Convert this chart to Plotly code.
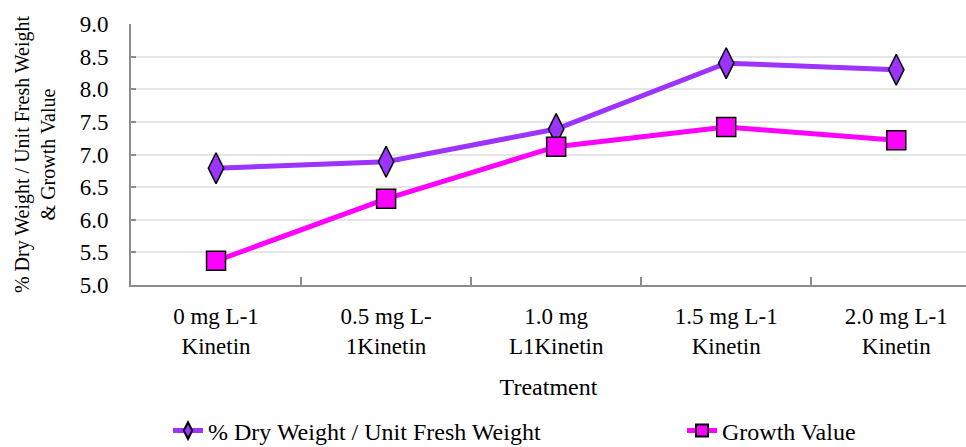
import plotly.graph_objects as go

categories = ["0 mg L-1<br>Kinetin", "0.5 mg L-<br>1Kinetin", "1.0 mg<br>L1Kinetin",
              "1.5 mg L-1<br>Kinetin", "2.0 mg L-1<br>Kinetin"]
dry_weight = [6.79, 6.89, 7.39, 8.40, 8.30]
growth_value = [5.37, 6.32, 7.12, 7.42, 7.22]
y_ticks = [5.0, 5.5, 6.0, 6.5, 7.0, 7.5, 8.0, 8.5, 9.0]

FONT = "Times New Roman"

fig = go.Figure()
fig.add_trace(go.Scatter(
    x=categories, y=dry_weight, mode="lines+markers",
    name="% Dry Weight / Unit Fresh Weight",
    line=dict(color="#9D33FF", width=5),
    marker=dict(symbol="diamond-tall", size=22, color="#9D33FF",
                line=dict(color="black", width=1.5)),
    legend="legend",
))
fig.add_trace(go.Scatter(
    x=categories, y=growth_value, mode="lines+markers",
    name="Growth Value",
    line=dict(color="#FF00FF", width=5),
    marker=dict(symbol="square", size=19, color="#FF00FF",
                line=dict(color="black", width=1.5)),
    legend="legend2",
))

leg_common = dict(orientation="h", yref="container", y=16 / 447, yanchor="middle",
                  xref="container", xanchor="left",
                  font=dict(family=FONT, size=24, color="black"),
                  itemsizing="constant", bgcolor="rgba(0,0,0,0)")

fig.update_layout(
    width=966, height=447,
    margin=dict(l=131, r=0, t=24, b=162, autoexpand=False),
    paper_bgcolor="white", plot_bgcolor="white",
    font=dict(family=FONT, size=20, color="black"),
    showlegend=True,
    legend=dict(x=168 / 966, **leg_common),
    legend2=dict(x=682 / 966, **leg_common),
    xaxis=dict(
        type="category", range=[-0.5, 4.41], automargin=False,
        showline=True, linecolor="#8c8c8c", linewidth=2,
        ticks="inside", ticklen=8, tickcolor="#8c8c8c", tickwidth=1.5,
        tickson="boundaries", showgrid=False,
        ticklabelstandoff=9,
        title=dict(text="Treatment", standoff=21, font=dict(family=FONT, size=24)),
        tickfont=dict(family=FONT, size=23),
    ),
    yaxis=dict(
        range=[5.0, 9.0], tickvals=y_ticks, ticktext=[f"{v:.1f}" for v in y_ticks],
        automargin=False,
        showline=True, linecolor="#8c8c8c", linewidth=2,
        ticks="inside", ticklen=5, tickcolor="#8c8c8c", tickwidth=1.5,
        showgrid=True, gridcolor="#e6e6e6", gridwidth=1.5,
        zeroline=False, ticklabelstandoff=16,
        title=dict(text="% Dry Weight / Unit Fresh Weight<br>& Growth Value",
                   standoff=19, font=dict(family=FONT, size=20)),
        tickfont=dict(family=FONT, size=23),
    ),
)

fig.write_html("out.html")
